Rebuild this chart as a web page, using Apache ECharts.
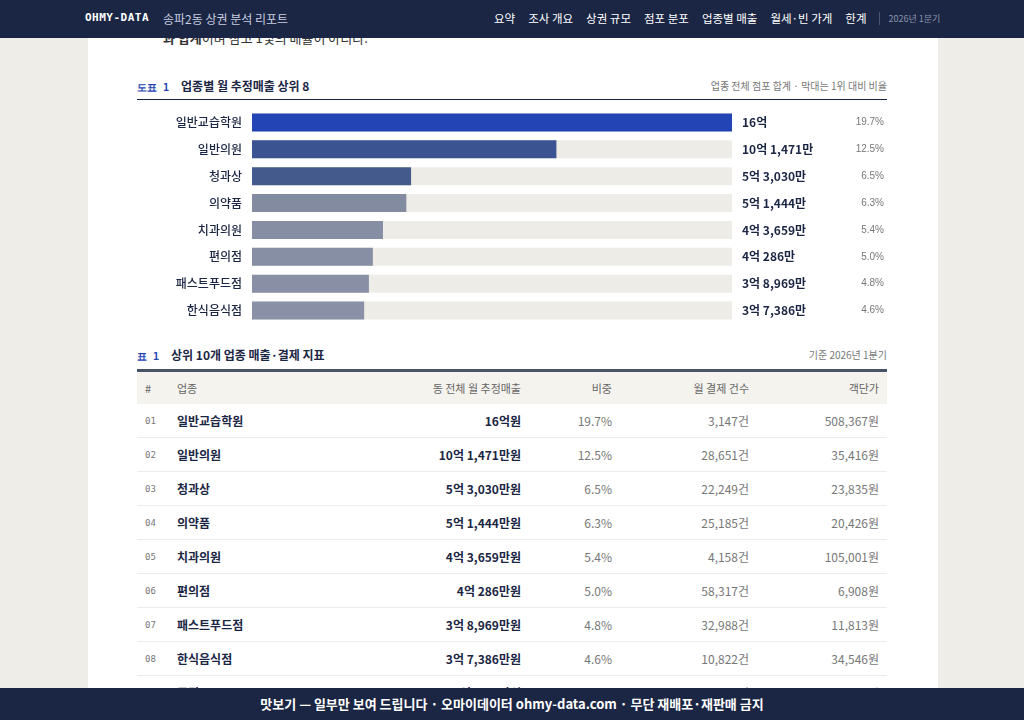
<!DOCTYPE html>
<html><head><meta charset="utf-8">
<script src="https://cdn.jsdelivr.net/npm/echarts@6/dist/echarts.min.js"></script>
<style>
body{margin:0;background:#efede8;font-family:"Noto Sans CJK KR","Noto Sans",sans-serif;width:1024px;height:720px;overflow:hidden;position:relative}
#hdr{position:absolute;left:0;top:0;width:1024px;height:38px;background:#1b2644;color:#fff;font-size:12px;z-index:5}
#hdr .logo{position:absolute;left:85px;top:11px;font-family:"DejaVu Sans Mono",monospace;font-weight:bold;font-size:11px;letter-spacing:0.5px}
#hdr .sub{position:absolute;left:163px;top:10px;color:#c8cde0}
#hdr .nav{position:absolute;left:494px;top:10px;display:flex;gap:13px;align-items:center;font-size:11.5px;white-space:nowrap}
#hdr .nav .q{border-left:1px solid #4a5475;padding-left:8px;font-size:9px;color:#8a93ad;width:62px;overflow:hidden;white-space:nowrap}
#page{position:absolute;left:88px;top:0;width:850px;height:720px;background:#fff}
#ftr{position:absolute;left:0;top:688px;width:1024px;height:32px;background:#1b2644;color:#fff;font-size:13px;font-weight:bold;text-align:center;line-height:32px;z-index:5}
.cap{position:absolute;left:137px;width:750px;font-size:12px;color:#1b2644}
.cap b.n{color:#2344b5;font-family:"DejaVu Sans Mono",monospace;font-size:10px;margin-right:12px}
.cap .r{position:absolute;right:0;top:1px;color:#777;font-size:10px;font-weight:normal}
#chart{position:absolute;left:137px;top:109px;width:750px;height:215px}
table{position:absolute;left:137px;top:369px;width:750px;border-collapse:collapse;font-size:12px;color:#1b2644}
th{background:#f5f3ee;font-weight:normal;color:#666;font-size:11px;height:32px;border-top:3px solid #4a5268}
td{height:33px;border-bottom:1px solid #ecebe6}
th,td{padding:0 8px}
.num{text-align:right}
.rk{font-family:"DejaVu Sans Mono",monospace;font-size:9px;color:#777;width:16px}
.nm{font-weight:bold}
.gr{color:#777}
</style></head><body>
<div id="page"></div>
<div style="position:absolute;left:163px;top:28px;font-size:13px;color:#333"><b>과 합계</b>이며 참고 1및의 배율이 아니다.</div>
<div id="hdr"><span class="logo">OHMY-DATA</span><span class="sub">송파2동 상권 분석 리포트</span>
<div class="nav"><span>요약</span><span>조사 개요</span><span>상권 규모</span><span>점포 분포</span><span>업종별 매출</span><span>월세·빈 가게</span><span>한계</span><span class="q">2026년 1분기</span></div></div>
<div class="cap" style="top:77px;border-bottom:1px solid #1b2644;height:22px"><b class="n">도표 1</b><b>업종별 월 추정매출 상위 8</b><span class="r">업종 전체 점포 합계 · 막대는 1위 대비 비율</span></div>
<div id="chart"></div>
<div class="cap" style="top:346px"><b class="n">표 1</b><b>상위 10개 업종 매출·결제 지표</b><span class="r">기준 2026년 1분기</span></div>
<table id="tbl"><colgroup><col style="width:24px"><col style="width:160px"><col style="width:200px"><col style="width:91px"><col style="width:137px"><col></colgroup></table>
<div id="ftr">맛보기 — 일부만 보여 드립니다 · 오마이데이터 ohmy-data.com · 무단 재배포·재판매 금지</div>
<script>
const categories=["일반교습학원","일반의원","청과상","의약품","치과의원","편의점","패스트푸드점","한식음식점"];
const sales=[160000,101471,53030,51444,43659,40286,38969,37386]; // 만원
const salesLabels=["16억","10억 1,471만","5억 3,030만","5억 1,444만","4억 3,659만","4억 286만","3억 8,969만","3억 7,386만"];
const shares=["19.7%","12.5%","6.5%","6.3%","5.4%","5.0%","4.8%","4.6%"];
const barColors=["#2344b5","#3c5391","#455a8c","#838ba0","#868ea3","#878fa4","#8990a5","#8a91a6"];
const tblRank=["01","02","03","04","05","06","07","08","09"];
const tblName=["일반교습학원","일반의원","청과상","의약품","치과의원","편의점","패스트푸드점","한식음식점","주점"];
const tblSales=["16억원","10억 1,471만원","5억 3,030만원","5억 1,444만원","4억 3,659만원","4억 286만원","3억 8,969만원","3억 7,386만원","3억 ,000만원"];
const tblShare=["19.7%","12.5%","6.5%","6.3%","5.4%","5.0%","4.8%","4.6%","4.0%"];
const tblCount=["3,147건","28,651건","22,249건","25,185건","4,158건","58,317건","32,988건","10,822건","0,000건"];
const tblUnit=["508,367원","35,416원","23,835원","20,426원","105,001원","6,908원","11,813원","34,546원","00,000원"];

let h=document.getElementById('tbl').innerHTML+'<tr><th style="text-align:left">#</th><th style="text-align:left">업종</th><th class="num">동 전체 월 추정매출</th><th class="num">비중</th><th class="num">월 결제 건수</th><th class="num">객단가</th></tr>';
for(let i=0;i<tblName.length;i++){h+=`<tr><td class="rk">${tblRank[i]}</td><td class="nm">${tblName[i]}</td><td class="num nm">${tblSales[i]}</td><td class="num gr">${tblShare[i]}</td><td class="num gr">${tblCount[i]}</td><td class="num gr">${tblUnit[i]}</td></tr>`;}
document.getElementById('tbl').innerHTML=h;

const c=echarts.init(document.getElementById('chart'));
c.setOption({
 animation:false,
 grid:{left:115,right:152,top:0,bottom:0},
 xAxis:{type:'value',min:0,max:sales[0],show:false},
 yAxis:[{type:'category',data:categories,inverse:true,axisLine:{show:false},axisTick:{show:false},
   axisLabel:{color:'#1b2644',fontSize:12,margin:10,fontWeight:500,fontFamily:'Noto Sans CJK KR'}},
  {type:'category',data:categories.map((c,i)=>i),inverse:true,position:'right',axisLine:{show:false},axisTick:{show:false},
   axisLabel:{margin:10,formatter:(v)=>`{v|${salesLabels[v]}}{p|${shares[v]}}`,
    rich:{v:{width:100,align:'left',fontWeight:'bold',fontSize:12,color:'#1b2644',fontFamily:'Noto Sans CJK KR'},
          p:{width:42,align:'right',fontSize:10,color:'#777'}}}}],
 series:[{type:'bar',data:sales.map((v,i)=>({value:v,itemStyle:{color:barColors[i]}})),barWidth:18,
   showBackground:true,backgroundStyle:{color:'#eeece6'}}]
});
</script>
</body></html>
